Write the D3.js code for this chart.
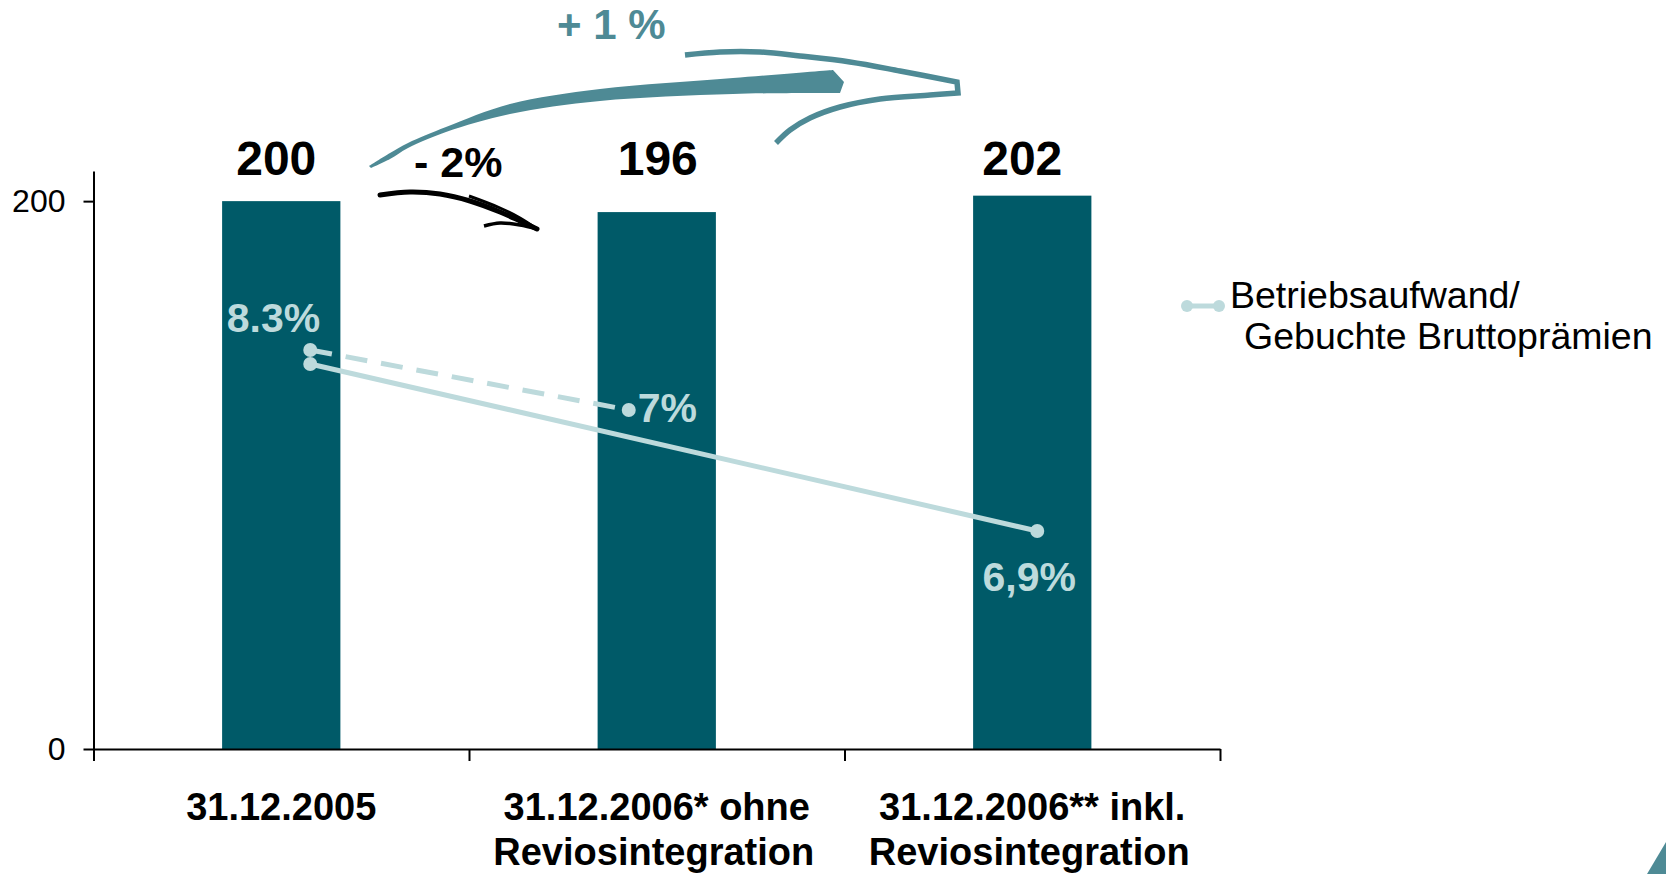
<!DOCTYPE html>
<html>
<head>
<meta charset="utf-8">
<script src="https://cdn.jsdelivr.net/npm/d3@7"></script>
<style>
  html, body { margin: 0; padding: 0; background: #ffffff; }
  svg { display: block; }
  text { font-family: "Liberation Sans", Arial, sans-serif; }
</style>
</head>
<body>
<svg id="chart" width="1666" height="874"></svg>
<script>
// ---------------- data ----------------
const categoryLines = [
  ["31.12.2005"],
  ["31.12.2006* ohne", "Reviosintegration"],
  ["31.12.2006** inkl.", "Reviosintegration"]
];
const barValues = [200, 196, 202];
const barLabels = ["200", "196", "202"];
const yTickValues = [0, 200];

// Betriebsaufwand / Gebuchte Bruttoprämien (in %)
const ratioSolidCats = [0, 2];
const ratioSolidValues = [8.3, 6.9];
const ratioDashedCats = [0, 1];
const ratioDashedValues = [8.3, 7.0];
const ratioLabels = ["8.3%", "7%", "6,9%"];

const changeLabels = ["- 2%", "+ 1 %"];
const legendLines = ["Betriebsaufwand/", "Gebuchte Bruttoprämien"];

// ---------------- style / layout ----------------
const COLORS = { bar: "#005a68", ratio: "#bddadc", teal: "#4e8a95", text: "#000000" };
const FONT = "'Liberation Sans', Arial, sans-serif";
const plot = { left: 93.5, right: 1220, bottom: 749, top: 171 };
const lineXOffset = [29, -28, 5];
const barLabelDx = [-5, 1, -10];

const svg = d3.select("#chart");

// ---------------- scales ----------------
const x = d3.scaleBand().domain(d3.range(categoryLines.length))
  .range([plot.left, plot.right]).paddingInner(0.685).paddingOuter(0.3425);
const xEdge = d3.scaleLinear().domain([0, categoryLines.length]).range([plot.left, plot.right]);
const y = d3.scaleLinear().domain([0, 211]).range([plot.bottom, plot.top]);
const yRatioSolid = d3.scaleLinear().domain([6.9, 8.3]).range([531, 364]);
const yRatioDashed = d3.scaleLinear().domain([7.0, 8.3]).range([410, 350]);
const cx = i => x(i) + x.bandwidth() / 2;
const lx = i => cx(i) + lineXOffset[i];

// ---------------- bars ----------------
svg.append("g").selectAll("rect").data(barValues).join("rect")
  .attr("x", (d, i) => x(i))
  .attr("y", d => y(d))
  .attr("width", x.bandwidth())
  .attr("height", d => y(0) - y(d))
  .attr("fill", COLORS.bar);

// ---------------- axes ----------------
const yAxis = svg.append("g")
  .attr("transform", `translate(${plot.left},0)`)
  .call(d3.axisLeft(y).tickValues(yTickValues).tickSize(10).tickSizeOuter(0).tickPadding(18));
yAxis.selectAll("path, line").attr("stroke", "#000").attr("stroke-width", 2);
yAxis.selectAll("text").attr("font-size", 32).attr("font-family", FONT).attr("fill", "#000");

const xAxis = svg.append("g")
  .attr("transform", `translate(0,${plot.bottom})`)
  .call(d3.axisBottom(xEdge).tickValues(d3.range(categoryLines.length + 1))
    .tickFormat("").tickSize(12).tickSizeOuter(0));
xAxis.selectAll("path, line").attr("stroke", "#000").attr("stroke-width", 2);

// category labels
const catG = svg.append("g");
categoryLines.forEach((lines, i) => {
  const t = catG.append("text")
    .attr("text-anchor", "middle")
    .attr("font-family", FONT).attr("font-weight", "bold").attr("font-size", 38)
    .attr("fill", COLORS.text);
  lines.forEach((ln, k) => {
    t.append("tspan").attr("x", cx(i) - 3 * k).attr("y", 820 + k * 45).text(ln);
  });
});

// bar value labels
svg.append("g").selectAll("text").data(barLabels).join("text")
  .attr("x", (d, i) => cx(i) + barLabelDx[i])
  .attr("y", y(200) - 26)
  .attr("text-anchor", "middle")
  .attr("font-family", FONT).attr("font-weight", "bold").attr("font-size", 48)
  .attr("fill", COLORS.text)
  .text(d => d);

// ---------------- ratio lines ----------------
const solidPts = ratioSolidCats.map((c, k) => [lx(c), yRatioSolid(ratioSolidValues[k])]);
const dashedPts = ratioDashedCats.map((c, k) => [lx(c), yRatioDashed(ratioDashedValues[k])]);
const line = d3.line();

svg.append("path").attr("d", line(dashedPts))
  .attr("fill", "none").attr("stroke", COLORS.ratio).attr("stroke-width", 5)
  .attr("stroke-dasharray", "22,14");
svg.append("path").attr("d", line(solidPts))
  .attr("fill", "none").attr("stroke", COLORS.ratio).attr("stroke-width", 5);
svg.append("g").selectAll("circle").data(dashedPts.concat(solidPts)).join("circle")
  .attr("cx", d => d[0]).attr("cy", d => d[1]).attr("r", 7)
  .attr("fill", COLORS.ratio);

// ratio labels
const rl = svg.append("g").attr("font-family", FONT).attr("font-weight", "bold")
  .attr("font-size", 41).attr("fill", COLORS.ratio);
rl.append("text").attr("x", solidPts[0][0] + 10).attr("y", dashedPts[0][1] - 18)
  .attr("text-anchor", "end").text(ratioLabels[0]);
rl.append("text").attr("x", dashedPts[1][0] + 9).attr("y", dashedPts[1][1] + 12)
  .attr("text-anchor", "start").text(ratioLabels[1]);
rl.append("text").attr("x", solidPts[1][0] - 8).attr("y", solidPts[1][1] + 60)
  .attr("text-anchor", "middle").text(ratioLabels[2]);

// ---------------- change arrows (annotations) ----------------
const curve = d3.line().curve(d3.curveCatmullRom.alpha(0.5));
// teal brush arrow body
const tealUpper = [[369,166],[390,153],[408,143],[446,127],[510,104],[600,89],[733,78],[833,70]];
const tealLower = [[840,93],[733,94],[600,101],[510,114],[446,132],[408,148],[390,159],[371,168]];
const bodyD = curve(tealUpper) + "L844,82L" + curve(tealLower).slice(1) + "Z";
svg.append("path").attr("d", bodyD).attr("fill", COLORS.teal);
// teal chevron head
const chevTop = [[685,55],[720,52],[760,52],[800,56],[850,62],[900,71],[957,82]];
const chevBot = [[958,93],[930,95],[880,99],[840,107],[810,118],[790,130],[776,143]];
svg.append("path").attr("d", curve(chevTop) + "L" + curve(chevBot).slice(1))
  .attr("fill", "none").attr("stroke", COLORS.teal).attr("stroke-width", 5.5)
  .attr("stroke-linejoin", "miter").attr("stroke-miterlimit", 10);

// black arrow
const blackBody = [[380,195],[410,192],[440,194],[470,201],[500,212],[520,221],[537,229]];
svg.append("path").attr("d", curve(blackBody))
  .attr("fill", "none").attr("stroke", "#000").attr("stroke-width", 5).attr("stroke-linecap", "round");
svg.append("path").attr("d", curve([[469,196],[500,208],[520,218],[537,229]]))
  .attr("fill", "none").attr("stroke", "#000").attr("stroke-width", 3);
svg.append("path").attr("d", curve([[484,226],[500,223],[520,225],[537,229]]))
  .attr("fill", "none").attr("stroke", "#000").attr("stroke-width", 3.5);

// change labels
svg.append("text").attr("x", 414).attr("y", 177)
  .attr("font-family", FONT).attr("font-weight", "bold").attr("font-size", 43)
  .attr("fill", "#000").text(changeLabels[0]);
svg.append("text").attr("x", 557).attr("y", 39)
  .attr("font-family", FONT).attr("font-weight", "bold").attr("font-size", 42)
  .attr("fill", COLORS.teal).text(changeLabels[1]);

// ---------------- legend ----------------
const lg = svg.append("g");
lg.append("line").attr("x1", 1187).attr("x2", 1219).attr("y1", 306).attr("y2", 306)
  .attr("stroke", COLORS.ratio).attr("stroke-width", 5);
lg.selectAll("circle").data([1187, 1219]).join("circle")
  .attr("cx", d => d).attr("cy", 306).attr("r", 6).attr("fill", COLORS.ratio);
const lt = lg.append("text").attr("font-family", FONT).attr("font-size", 37.5).attr("fill", "#000");
lt.append("tspan").attr("x", 1230).attr("y", 308).text(legendLines[0]);
lt.append("tspan").attr("x", 1244).attr("y", 349).text(legendLines[1]);

// slide corner decoration
svg.append("path").attr("d", "M1647,874L1666,842L1666,874Z").attr("fill", COLORS.teal);
</script>
</body>
</html>
